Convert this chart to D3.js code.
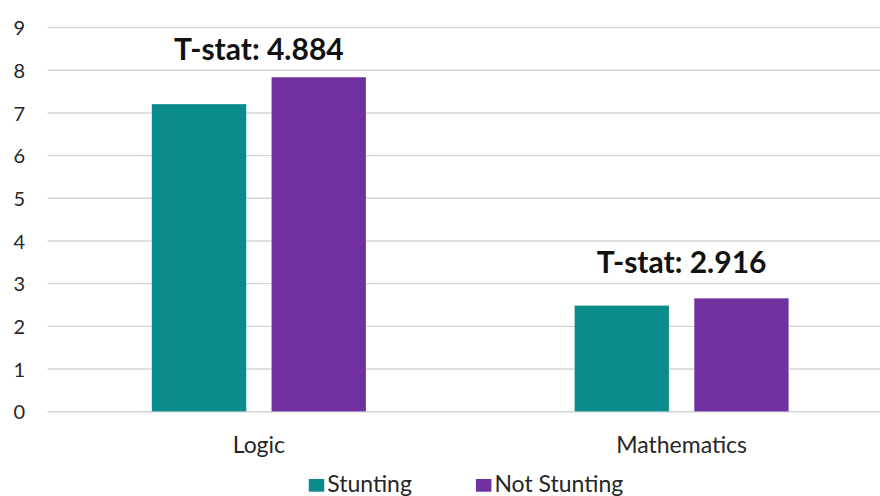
<!DOCTYPE html>
<html>
<head>
<meta charset="utf-8">
<script src="https://cdn.jsdelivr.net/npm/d3@7"></script>
<style>
  html, body { margin: 0; padding: 0; background: #fff; }
  svg { display: block; font-family: Lato, "Open Sans", sans-serif; }
</style>
</head>
<body>
<svg id="chart" width="880" height="496"></svg>
<script>
// Mean test scores by stunting status, with t-statistics per subject
const categories = ["Logic", "Mathematics"];
const seriesNames = ["Stunting", "Not Stunting"];
const stunting = [7.21, 2.49];
const notStunting = [7.84, 2.66];
const tStats = ["4.884", "2.916"];
const yTicks = [0, 1, 2, 3, 4, 5, 6, 7, 8, 9];

const colors = { "Stunting": "#0B8B8C", "Not Stunting": "#7030A0" };

const rows = categories.map((c, i) => ({
  category: c,
  values: [
    { key: "Stunting", value: stunting[i] },
    { key: "Not Stunting", value: notStunting[i] }
  ],
  tstat: tStats[i]
}));

const W = 880, H = 496;
const plot = { left: 47.5, right: 893, top: 27.6, bottom: 411.7 };

const svg = d3.select("#chart");

const y = d3.scaleLinear().domain([0, 9]).range([plot.bottom, plot.top]);
const x0 = d3.scaleBand().domain(categories).range([plot.left, plot.right]).padding(0);
const x1 = d3.scaleBand().domain(seriesNames).range([0, x0.bandwidth()])
  .paddingInner(0.209).paddingOuter(0.871);

// horizontal gridlines
svg.append("g").selectAll("line").data(yTicks).join("line")
  .attr("x1", plot.left).attr("x2", W)
  .attr("y1", d => y(d)).attr("y2", d => y(d))
  .attr("stroke", "#d4d4d4").attr("stroke-width", 1.4);

// y-axis tick labels
const yAxis = d3.axisLeft(y).tickValues(yTicks).tickSize(0).tickPadding(0).tickFormat(d3.format("d"));
const yg = svg.append("g").attr("transform", "translate(25,0)").call(yAxis);
yg.select(".domain").remove();
yg.selectAll("text").attr("font-size", 20).attr("fill", "#262626")
  .attr("font-family", "Lato, sans-serif").attr("dy", "0.36em");

// bars
const groups = svg.append("g").selectAll("g").data(rows).join("g")
  .attr("transform", d => `translate(${x0(d.category)},0)`);

groups.selectAll("rect").data(d => d.values).join("rect")
  .attr("x", d => x1(d.key))
  .attr("width", x1.bandwidth())
  .attr("y", d => y(d.value))
  .attr("height", d => y(0) - y(d.value))
  .attr("fill", d => colors[d.key])
  .attr("stroke", "#ffffff").attr("stroke-opacity", 0.5).attr("stroke-width", 0.6);

// t-statistic labels, centred half a unit above the next whole number
groups.append("text")
  .attr("x", x0.bandwidth() / 2)
  .attr("y", d => y(Math.ceil(d3.max(d.values, v => v.value)) + 0.5))
  .attr("dy", "0.36em")
  .attr("text-anchor", "middle")
  .attr("font-size", 30).attr("font-weight", 700).attr("fill", "#111")
  .text(d => `T-stat: ${d.tstat}`);

// category labels
svg.append("g").selectAll("text").data(categories).join("text")
  .attr("x", d => x0(d) + x0.bandwidth() / 2)
  .attr("y", plot.bottom + 41.6)
  .attr("text-anchor", "middle")
  .attr("font-size", 23).attr("fill", "#262626")
  .text(d => d);

// legend
const legend = svg.append("g");
let cursor = 0;
const items = legend.selectAll("g").data(seriesNames).join("g");
items.append("rect")
  .attr("width", 15.5).attr("height", 12.7)
  .attr("y", -12.7)
  .attr("fill", d => colors[d]);
items.append("text")
  .attr("x", 18.5)
  .attr("font-size", 23).attr("fill", "#262626")
  .text(d => d);
items.each(function () {
  const g = d3.select(this);
  g.attr("transform", `translate(${cursor},0)`);
  cursor += 18.5 + g.select("text").node().getComputedTextLength() + 64;
});
const legendWidth = cursor - 64;
legend.attr("transform", `translate(${466 - legendWidth / 2},${491.7})`);
</script>
</body>
</html>
